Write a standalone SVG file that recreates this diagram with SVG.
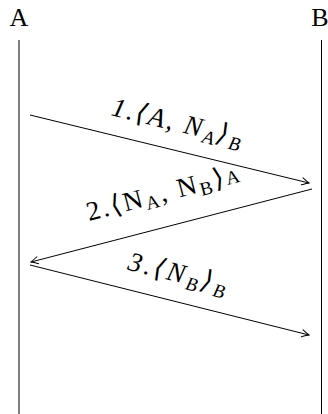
<svg xmlns="http://www.w3.org/2000/svg" width="328" height="414" viewBox="0 0 328 414">
<style>
.life{stroke:#000;stroke-width:1;fill:none}
.msg{stroke:#000;stroke-width:1;fill:none}
</style>
<defs>
<marker id="arr" markerUnits="userSpaceOnUse" viewBox="-8 -5 10 10" refX="0" refY="0" markerWidth="10" markerHeight="10" orient="auto">
<path d="M-7,-3.6 Q-2,-0.8 0,0 Q-2,0.8 -7,3.6" stroke="#000" stroke-width="1" fill="none" stroke-linecap="round"/>
</marker>
</defs>
<g id="nodeA">
<text x="19" y="26" text-anchor="middle" font-family="Liberation Serif, serif" font-size="26">A</text>
<line class="life" x1="19" y1="40" x2="19" y2="414"/>
</g>
<g id="nodeB">
<text x="320" y="26" text-anchor="middle" font-family="Liberation Serif, serif" font-size="26">B</text>
<line class="life" x1="321.5" y1="40" x2="321.5" y2="414"/>
</g>
<g id="connectors">
<line class="msg" x1="30" y1="115" x2="309" y2="183" marker-end="url(#arr)"/>
<line class="msg" x1="312" y1="189" x2="31" y2="262" marker-end="url(#arr)"/>
<line class="msg" x1="30" y1="265" x2="309" y2="335" marker-end="url(#arr)"/>
</g>
<g id="labels" font-family="Liberation Serif, DejaVu Serif, serif" font-size="27" letter-spacing="2.3">
<text font-style="italic" transform="translate(176,131) rotate(13.7)" text-anchor="middle">1.⟨A, N<tspan font-size="19" dy="5">A</tspan><tspan dy="-5">⟩</tspan><tspan font-size="19" dy="5">B</tspan></text>
<text transform="translate(166,201) rotate(-14.5)" text-anchor="middle">2.⟨N<tspan font-size="19" dy="4">A</tspan><tspan dy="-4">, N</tspan><tspan font-size="19" dy="4">B</tspan><tspan dy="-4">⟩</tspan><tspan font-size="19">A</tspan></text>
<text font-style="italic" letter-spacing="3" transform="translate(177,282) rotate(14)" text-anchor="middle">3.⟨N<tspan font-size="19" dy="5">B</tspan><tspan dy="-5">⟩</tspan><tspan font-size="19" dy="5">B</tspan></text>
</g>
</svg>
